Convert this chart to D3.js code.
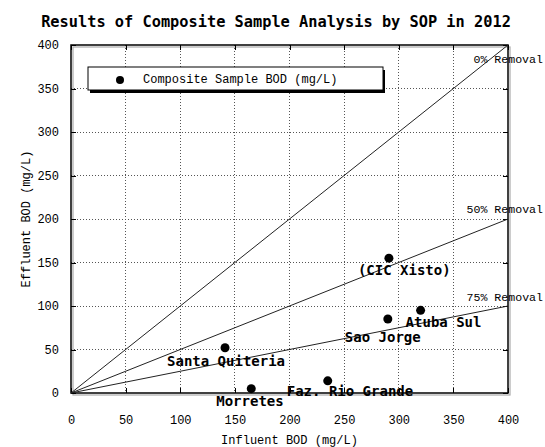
<!DOCTYPE html>
<html>
<head>
<meta charset="utf-8">
<script src="https://cdn.jsdelivr.net/npm/d3@7"></script>
<style>
  html, body { margin: 0; padding: 0; background: #fff; }
  svg { display: block; }
</style>
</head>
<body>
<svg id="chart" width="545" height="447"></svg>
<script>
// Sampling sites and their composite BOD results (mg/L)
const sites = ["Santa Quiteria", "Morretes", "Faz. Rio Grande", "Sao Jorge", "Atuba Sul", "(CIC Xisto)"];
const influentBOD = [141, 165, 235, 290, 320, 291];
const effluentBOD = [52, 5, 14, 85, 95, 155];

// Reference removal lines: effluent = influent * (1 - removal)
const removalRates = [0, 0.5, 0.75];
const removalLabels = ["0% Removal", "50% Removal", "75% Removal"];

const xTicks = [0, 50, 100, 150, 200, 250, 300, 350, 400];
const yTicks = [0, 50, 100, 150, 200, 250, 300, 350, 400];

const title = "Results of Composite Sample Analysis by SOP in 2012";
const xTitle = "Influent BOD (mg/L)";
const yTitle = "Effluent BOD (mg/L)";
const legendLabel = "Composite Sample BOD (mg/L)";

const plot = { left: 71, right: 508, top: 45, bottom: 393 };
const regFont = "'Liberation Mono', 'DejaVu Sans Mono', monospace";
const boldFont = "'DejaVu Sans Mono', 'Liberation Mono', monospace";

const svg = d3.select("#chart");

const x = d3.scaleLinear().domain([0, 400]).range([plot.left, plot.right]);
const y = d3.scaleLinear().domain([0, 400]).range([plot.bottom, plot.top]);

// Dotted grid
const grid = svg.append("g");
grid.selectAll("line.vg").data(xTicks.slice(1, -1)).join("line")
  .attr("x1", d => x(d)).attr("x2", d => x(d))
  .attr("y1", plot.top).attr("y2", plot.bottom)
  .attr("stroke", "#555").attr("stroke-width", 1).attr("stroke-dasharray", "1,2")
  .attr("shape-rendering", "crispEdges");
grid.selectAll("line.hg").data(yTicks.slice(1, -1)).join("line")
  .attr("x1", plot.left).attr("x2", plot.right)
  .attr("y1", d => y(d)).attr("y2", d => y(d))
  .attr("stroke", "#555").attr("stroke-width", 1).attr("stroke-dasharray", "1,2")
  .attr("shape-rendering", "crispEdges");

// Frame drop shadow
svg.append("rect")
  .attr("x", plot.left + 2).attr("y", plot.top + 2)
  .attr("width", plot.right - plot.left).attr("height", plot.bottom - plot.top)
  .attr("fill", "none").attr("stroke", "#aaa").attr("stroke-width", 1.2);

// Axes: ticks pointing inward on all four sides
const tickLen = 5;
const axisBottom = d3.axisBottom(x).tickValues(xTicks).tickSize(-tickLen).tickPadding(22);
const axisTop = d3.axisTop(x).tickValues(xTicks).tickSize(-tickLen).tickFormat("");
const axisLeft = d3.axisLeft(y).tickValues(yTicks).tickSize(-tickLen).tickPadding(12);
const axisRight = d3.axisRight(y).tickValues(yTicks).tickSize(-tickLen).tickFormat("");

function styleAxis(g) {
  g.select(".domain").remove();
  g.selectAll(".tick line").attr("stroke", "#000").attr("stroke-width", 1).attr("shape-rendering", "crispEdges");
  g.selectAll(".tick text").attr("font-family", regFont).attr("font-size", 12).attr("fill", "#000");
}
svg.append("g").attr("transform", `translate(0,${plot.bottom})`).call(axisBottom).call(styleAxis);
svg.append("g").attr("transform", `translate(0,${plot.top})`).call(axisTop).call(styleAxis);
svg.append("g").attr("transform", `translate(${plot.left},0)`).call(axisLeft).call(styleAxis);
svg.append("g").attr("transform", `translate(${plot.right},0)`).call(axisRight).call(styleAxis);

// Frame
svg.append("rect")
  .attr("x", plot.left).attr("y", plot.top)
  .attr("width", plot.right - plot.left).attr("height", plot.bottom - plot.top)
  .attr("fill", "none").attr("stroke", "#000").attr("stroke-width", 1.5);

// Removal reference lines
const refLine = d3.line().x(d => x(d[0])).y(d => y(d[1]));
svg.append("g").selectAll("path").data(removalRates).join("path")
  .attr("d", r => refLine([[0, 0], [400, 400 * (1 - r)]]))
  .attr("fill", "none").attr("stroke", "#222").attr("stroke-width", 1);

// Removal labels: right-aligned against the page edge, just above each line end
const removalLabelY = [379, 207, 106];
svg.append("g").selectAll("text").data(removalLabels).join("text")
  .attr("x", 543)
  .attr("y", (d, i) => y(removalLabelY[i]))
  .attr("text-anchor", "end")
  .attr("font-family", regFont).attr("font-size", 11.6).attr("fill", "#000")
  .text(d => d);

// Data points
svg.append("g").selectAll("circle").data(sites).join("circle")
  .attr("cx", (d, i) => x(influentBOD[i]))
  .attr("cy", (d, i) => y(effluentBOD[i]))
  .attr("r", 4.5).attr("fill", "#000");

// Point labels, offset from each point
const labelOffsets = [[-58, 18], [-35, 17], [-41, 15], [-43, 23], [-15, 17], [-31, 17]];
svg.append("g").selectAll("text").data(sites).join("text")
  .attr("x", (d, i) => x(influentBOD[i]) + labelOffsets[i][0])
  .attr("y", (d, i) => y(effluentBOD[i]) + labelOffsets[i][1])
  .attr("font-family", boldFont).attr("font-weight", "bold").attr("font-size", 14)
  .attr("fill", "#000")
  .text(d => d);

// Legend box with drop shadow
const legend = svg.append("g");
legend.append("rect").attr("x", 90).attr("y", 70).attr("width", 295).attr("height", 23).attr("fill", "#000");
legend.append("rect").attr("x", 88).attr("y", 67).attr("width", 295).attr("height", 23)
  .attr("fill", "#fff").attr("stroke", "#000").attr("stroke-width", 1);
legend.append("circle").attr("cx", 120).attr("cy", 80).attr("r", 4).attr("fill", "#000");
legend.append("text").attr("x", 143).attr("y", 83)
  .attr("font-family", regFont).attr("font-size", 12).attr("fill", "#000")
  .text(legendLabel);

// Titles
svg.append("text").attr("x", 276).attr("y", 27).attr("text-anchor", "middle")
  .attr("font-family", boldFont).attr("font-weight", "bold").attr("font-size", 15.3)
  .attr("fill", "#000").text(title);
svg.append("text").attr("x", (plot.left + plot.right) / 2).attr("y", 444).attr("text-anchor", "middle")
  .attr("font-family", regFont).attr("font-size", 12).attr("fill", "#000").text(xTitle);
svg.append("text")
  .attr("transform", `translate(30,${(plot.top + plot.bottom) / 2}) rotate(-90)`)
  .attr("text-anchor", "middle")
  .attr("font-family", regFont).attr("font-size", 12).attr("fill", "#000").text(yTitle);
</script>
</body>
</html>
